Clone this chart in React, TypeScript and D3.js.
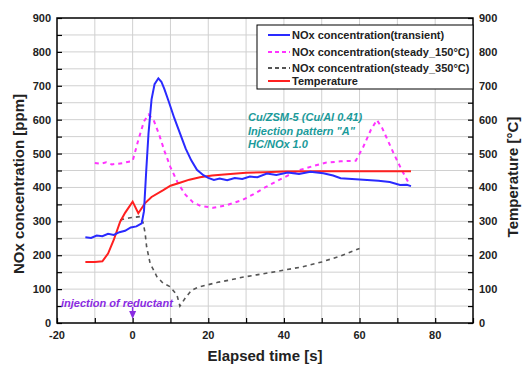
import React, { useEffect, useRef } from "react";
import * as d3 from "d3";

// elapsed time [s] / value pairs
const transientX = [-12.5, -11, -9.5, -8, -6.5, -5, -3.5, -2, -0.5, 1, 2.4, 3, 3.6, 4.2, 5, 5.8, 6.8, 7.6, 8.4, 9.5, 11, 12.5, 14, 15.5, 17, 18.7, 20, 21.5, 23, 25, 27, 29, 31, 33, 35.5, 38, 41, 44, 47, 50.4, 53, 55, 58, 62, 65, 68, 70.7, 72.5, 73.6];
const transientY = [253, 251, 258, 256, 263, 260, 268, 272, 282, 285, 294, 330, 450, 560, 660, 705, 722, 712, 690, 655, 605, 560, 515, 480, 452, 436, 428, 422, 426, 421, 428, 425, 432, 430, 441, 437, 444, 440, 446, 442, 435, 427, 425, 422, 420, 416, 407, 408, 404];

const steady150X = [-10, -8.5, -7, -5.5, -4, -2.5, -1, 0, 1.5, 3, 4.2, 5.5, 7, 8.5, 10, 12, 14, 16, 18, 21.3, 25, 29, 32, 35, 38, 41, 44, 48, 51, 55, 59, 61, 63, 64.6, 66, 69, 71, 73];
const steady150Y = [472, 470, 474, 468, 470, 472, 476, 478, 540, 595, 615, 600, 556, 505, 460, 412, 378, 356, 345, 340, 348, 363, 380, 400, 418, 435, 451, 464, 473, 477, 479, 520, 570, 599, 575, 501, 455, 413];

const steady350X = [-3.3, -1, 2, 2.8, 3.3, 3.7, 4.6, 6.4, 8, 9.9, 11.7, 12.5, 14, 15.6, 17.5, 19.6, 22.5, 25.8, 29, 32.8, 36, 40, 45, 50, 55, 60];
const steady350Y = [304, 310, 314, 295, 265, 225, 177, 137, 118, 107, 83, 50, 75, 97, 106, 112, 120, 127, 135, 142, 148, 156, 166, 180, 198, 220];

const tempX = [-12.5, -10, -8, -6.5, -5, -3.3, -2, 0, 1.5, 3.3, 5, 8.1, 10, 12.5, 15, 17.8, 21, 25, 30, 35, 40, 50, 60, 70, 73.6];
const tempY = [180, 180, 182, 205, 245, 299, 325, 358, 324, 354, 372, 392, 405, 414, 423, 430, 435, 439, 443, 445, 447, 448, 448, 448, 448];

const legendLabels = [
  "NOx concentration(transient)",
  "NOx concentration(steady_150°C)",
  "NOx concentration(steady_350°C)",
  "Temperature",
];
const xTicks = [-20, 0, 20, 40, 60, 80];
const yTicks = [0, 100, 200, 300, 400, 500, 600, 700, 800, 900];
const noteLines = ["Cu/ZSM-5 (Cu/Al 0.41)", 'Injection pattern "A"', "HC/NOx 1.0"];

const App = () => {
  const ref = useRef<SVGSVGElement>(null);

  useEffect(() => {
    const svg = d3.select(ref.current);
    svg.selectAll("*").remove();

    const left = 57, right = 473, top = 18, bottom = 323;
    const x = d3.scaleLinear().domain([-20, 90]).range([left, right]);
    const y = d3.scaleLinear().domain([0, 900]).range([bottom, top]);
    const font = "'Liberation Sans', Arial, sans-serif";

    svg.append("rect").attr("width", 523).attr("height", 367).attr("fill", "#fff");

    // grid
    const grid = svg.append("g").attr("stroke", "#d0d0d0").attr("stroke-width", 1);
    grid.selectAll(".gx").data(d3.range(-10, 90, 10)).enter().append("line")
      .attr("x1", (d) => x(d)).attr("x2", (d) => x(d)).attr("y1", top).attr("y2", bottom);
    grid.selectAll(".gy").data(d3.range(50, 900, 50)).enter().append("line")
      .attr("y1", (d) => y(d)).attr("y2", (d) => y(d)).attr("x1", left).attr("x2", right);

    // axes with inward ticks
    const leftAx = svg.append("g").attr("transform", `translate(${left},0)`)
      .call(d3.axisRight(y).tickValues(d3.range(0, 901, 50)).tickSize(5).tickFormat(() => ""));
    const rightAx = svg.append("g").attr("transform", `translate(${right},0)`)
      .call(d3.axisLeft(y).tickValues(d3.range(0, 901, 50)).tickSize(5).tickFormat(() => ""));
    const bottomAx = svg.append("g").attr("transform", `translate(0,${bottom})`)
      .call(d3.axisTop(x).tickValues(d3.range(-20, 91, 10)).tickSize(5).tickFormat(() => ""));
    [leftAx, rightAx, bottomAx].forEach((g) => {
      g.select(".domain").remove();
      g.selectAll("line").attr("stroke", "#000").attr("stroke-width", 1.2);
    });

    // tick labels
    const lab = svg.append("g").attr("font-family", font).attr("font-weight", "bold")
      .attr("font-size", 11).attr("fill", "#222");
    lab.selectAll(".yl").data(yTicks).enter().append("text")
      .attr("x", left - 6).attr("y", (d) => y(d) + 4).attr("text-anchor", "end").text((d) => d);
    lab.selectAll(".yr").data(yTicks).enter().append("text")
      .attr("x", right + 6).attr("y", (d) => y(d) + 4).attr("text-anchor", "start").text((d) => d);
    lab.selectAll(".xl").data(xTicks).enter().append("text")
      .attr("x", (d) => x(d)).attr("y", bottom + 16).attr("text-anchor", "middle").text((d) => d);

    // series
    const line = d3.line<[number, number]>().x((d) => x(d[0])).y((d) => y(d[1]));
    const pairs = (xs: number[], ys: number[]) => xs.map((v, i) => [v, ys[i]] as [number, number]);
    const series = [
      { d: pairs(steady350X, steady350Y), c: "#555", dash: "4,4", w: 1.6 },
      { d: pairs(steady150X, steady150Y), c: "#ff33ff", dash: "4,4", w: 2 },
      { d: pairs(tempX, tempY), c: "#ff2020", dash: null, w: 2 },
      { d: pairs(transientX, transientY), c: "#2a2aff", dash: null, w: 2 },
    ];
    series.forEach((s) => {
      svg.append("path").attr("d", line(s.d)).attr("fill", "none").attr("stroke", s.c)
        .attr("stroke-width", s.w).attr("stroke-dasharray", s.dash);
    });

    // frame
    svg.append("rect").attr("x", left).attr("y", top).attr("width", right - left)
      .attr("height", bottom - top).attr("fill", "none").attr("stroke", "#000").attr("stroke-width", 1.5);

    // legend
    const lg = svg.append("g");
    lg.append("rect").attr("x", 257).attr("y", 25).attr("width", right - 257).attr("height", 64)
      .attr("fill", "#fff").attr("stroke", "#000").attr("stroke-width", 1);
    const legendStyle = [
      { c: "#2a2aff", dash: null },
      { c: "#ff33ff", dash: "4,3" },
      { c: "#555", dash: "4,3" },
      { c: "#ff2020", dash: null },
    ];
    const ly = [35, 52, 68, 81];
    legendLabels.forEach((t, i) => {
      lg.append("line").attr("x1", 268).attr("x2", 290).attr("y1", ly[i]).attr("y2", ly[i])
        .attr("stroke", legendStyle[i].c).attr("stroke-width", 2).attr("stroke-dasharray", legendStyle[i].dash);
      lg.append("text").attr("x", 292).attr("y", ly[i] + 4).attr("font-family", font)
        .attr("font-weight", "bold").attr("font-size", 11).attr("fill", "#222").text(t);
    });

    // annotation
    svg.append("g").selectAll("text").data(noteLines).enter().append("text")
      .attr("x", 248).attr("y", (d, i) => 121 + i * 13.5).attr("font-family", font)
      .attr("font-weight", "bold").attr("font-style", "italic").attr("font-size", 11)
      .attr("fill", "#1a9a9a").text((d) => d);

    svg.append("text").attr("x", 61).attr("y", 307).attr("font-family", font)
      .attr("font-weight", "bold").attr("font-style", "italic").attr("font-size", 11)
      .attr("fill", "#8a2be2").text("injection of reductant");
    svg.append("path")
      .attr("d", `M${x(0) - 3.5},${bottom - 12} L${x(0) + 3.5},${bottom - 12} L${x(0)},${bottom - 4} Z`)
      .attr("fill", "#8a2be2");
    svg.append("line").attr("x1", x(0)).attr("x2", x(0)).attr("y1", bottom - 16).attr("y2", bottom - 10)
      .attr("stroke", "#8a2be2").attr("stroke-width", 1.5);

    // axis titles
    svg.append("text").attr("transform", `translate(24,184) rotate(-90)`)
      .attr("text-anchor", "middle").attr("font-family", font).attr("font-weight", "bold")
      .attr("font-size", 15).attr("fill", "#222").text("NOx concentration [ppm]");
    svg.append("text").attr("transform", `translate(518,177) rotate(-90)`)
      .attr("text-anchor", "middle").attr("font-family", font).attr("font-weight", "bold")
      .attr("font-size", 15).attr("fill", "#222").text("Temperature [°C]");
    svg.append("text").attr("x", (left + right) / 2).attr("y", 361).attr("text-anchor", "middle")
      .attr("font-family", font).attr("font-weight", "bold").attr("font-size", 15)
      .attr("fill", "#222").text("Elapsed time [s]");
  }, []);

  return (
    <svg ref={ref} width={523} height={367}
      style={{ position: "absolute", left: 0, top: 0, display: "block" }} />
  );
};

export default App;
